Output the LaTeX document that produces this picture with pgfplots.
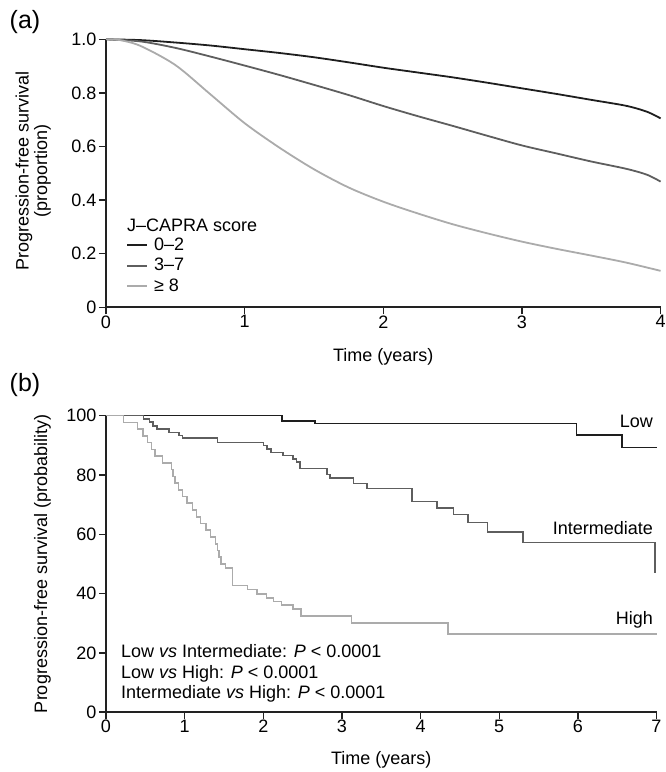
\documentclass[border=0pt]{standalone}
\usepackage{fontspec}
\setmainfont{Liberation Sans}
\usepackage{pgfplots}
\pgfplotsset{compat=1.18}

\definecolor{lowc}{HTML}{1E1E1E}
\definecolor{midc}{HTML}{5E5E5E}
\definecolor{highc}{HTML}{ABABAB}
\definecolor{axc}{HTML}{222222}
\newcommand{\fs}{\fontsize{18}{20}\selectfont}

\pgfplotsset{
  kmaxis/.style={
    scale only axis,
    axis lines*=left,
    axis line style={line width=1.6pt, color=axc},
    tick align=outside,
    major tick length=7pt,
    every tick/.style={line width=1.4pt, color=axc},
    tick label style={font=\fs, color=black},
    label style={font=\fs},
    xticklabel style={inner sep=1pt},
    yticklabel style={inner sep=2.5pt},
    /pgf/number format/assume math mode=true,
    clip=false,
  }
}

\begin{document}
\begin{tikzpicture}
\path[use as bounding box] (0,0) rectangle (665pt,772pt);

% (a) modelled survival by J-CAPRA score
\begin{axis}[
    kmaxis,
    at={(106pt,464.7pt)}, anchor=south west,
    width=554.6pt, height=268pt,
    xmin=0, xmax=4, ymin=0, ymax=1,
    xtick={0,1,2,3,4},
    ytick={0,0.2,0.4,0.6,0.8,1},
    yticklabels={0,0.2,0.4,0.6,0.8,1.0},
    xlabel={Time (years)},
    xlabel style={at={(axis description cs:0.5,-0.1854)}, anchor=center},
    ylabel={Progression-free survival\\(proportion)},
    ylabel style={align=center, font=\fontsize{18}{18.5}\selectfont,
        at={(axis description cs:-0.0992,0.51)}, anchor=south, inner sep=0pt},
    legend style={at={(axis description cs:0.0361,0.262)}, anchor=north west,
        draw=none, fill=none, inner sep=0pt, font=\fs, row sep=4.5pt,
        column sep=6pt,
        nodes={inner sep=0pt, text height=13pt, text depth=3pt}},
    legend cell align=left,
    legend image code/.code={\draw[#1] (0pt,0pt) -- (20pt,0pt);},
]
\addplot[lowc, line width=1.8pt, smooth] coordinates {
    (0,1) (0.25,0.997) (0.5,0.988) (0.75,0.977) (1,0.963) (1.25,0.949)
    (1.5,0.933) (1.75,0.914) (2,0.894) (2.25,0.876) (2.5,0.858) (2.75,0.838)
    (3,0.817) (3.25,0.796) (3.5,0.774) (3.75,0.752) (3.9,0.730) (4,0.705)};
\addplot[midc, line width=1.8pt, smooth] coordinates {
    (0,1) (0.25,0.992) (0.5,0.968) (0.75,0.936) (1,0.902) (1.25,0.867)
    (1.5,0.830) (1.75,0.792) (2,0.751) (2.25,0.713) (2.5,0.677) (2.75,0.640)
    (3,0.604) (3.25,0.574) (3.5,0.544) (3.75,0.517) (3.9,0.495) (4,0.469)};
\addplot[highc, line width=1.8pt, smooth] coordinates {
    (0,1) (0.1,0.997) (0.25,0.975) (0.5,0.904) (0.75,0.796) (1,0.687)
    (1.25,0.596) (1.5,0.515) (1.75,0.447) (2,0.394) (2.25,0.350) (2.5,0.310)
    (2.75,0.276) (3,0.245) (3.25,0.218) (3.5,0.193) (3.75,0.167) (4,0.136)};
\legend{0–2, 3–7, ≥ 8}
\node[anchor=west, font=\fs, inner sep=0pt] at (axis cs:0.1515,0.307) {J–CAPRA score};
\end{axis}

% (b) Kaplan-Meier curves by risk group
\begin{axis}[
    kmaxis,
    at={(106pt,59.8pt)}, anchor=south west,
    width=550.5pt, height=296.5pt,
    xmin=0, xmax=7, ymin=0, ymax=100,
    xtick={0,1,2,3,4,5,6,7},
    ytick={0,20,40,60,80,100},
    xlabel={Time (years)},
    xlabel style={at={(axis description cs:0.5,-0.1612)}, anchor=center},
    ylabel={Progression-free survival (probability)},
    ylabel style={at={(axis description cs:-0.0999,0.5)}, anchor=south, inner sep=0pt},
]
\addplot[lowc, line width=1.5pt, const plot] coordinates {
    (0,100) (2.24,98.2) (2.66,97.4) (5.98,93.5) (6.56,89.2) (7,89.2)};
\addplot[midc, line width=1.5pt, const plot] coordinates {
    (0,100) (0.48,98.9) (0.55,97.8) (0.60,96.6) (0.65,95.5) (0.80,94.4)
    (0.93,93.3) (0.97,92.4) (1.42,91.0) (2.00,89.9) (2.05,88.8) (2.10,87.6)
    (2.25,86.5) (2.38,85.4) (2.42,84.3) (2.47,82.2) (2.81,80.2) (2.85,79.0)
    (3.15,77.2) (3.32,75.5) (3.89,71.0) (4.21,68.9) (4.42,66.6) (4.60,64.0)
    (4.85,60.8) (5.30,57.2) (6.98,47.0)};
\addplot[highc, line width=1.5pt, const plot] coordinates {
    (0,100) (0.22,97.7) (0.40,95.5) (0.47,93.2) (0.53,90.9) (0.58,88.6)
    (0.62,86.4) (0.72,84.1) (0.83,81.8) (0.85,79.5) (0.88,77.3) (0.92,75.0)
    (0.97,72.7) (1.03,70.5) (1.10,68.2) (1.15,65.9) (1.20,63.6) (1.27,61.4)
    (1.33,59.1) (1.39,56.8) (1.42,54.5) (1.44,52.3) (1.46,50.0) (1.52,48.6)
    (1.61,42.8) (1.80,41.3) (1.92,39.8) (2.04,38.6) (2.13,37.4) (2.23,36.1)
    (2.38,34.8) (2.48,32.5) (3.12,30.0) (4.35,26.3) (7,26.3)};
\node[anchor=east, font=\fs] at (axis cs:7,98) {Low};
\node[anchor=east, font=\fs] at (axis cs:7,62.1) {Intermediate};
\node[anchor=east, font=\fs] at (axis cs:7,31.1) {High};
\node[anchor=west, align=left, inner sep=0pt, font=\fontsize{18}{20.4}\selectfont]
    at (axis cs:0.19,13.1)
    {Low \textit{vs} Intermediate: \textit{P} < 0.0001\\
     Low \textit{vs} High: \textit{P} < 0.0001\\
     Intermediate \textit{vs} High: \textit{P} < 0.0001};
\end{axis}

\node[font=\fontsize{25}{25}\selectfont] at (25pt,750pt) {(a)};
\node[font=\fontsize{25}{25}\selectfont] at (25pt,387pt) {(b)};
\end{tikzpicture}
\end{document}
